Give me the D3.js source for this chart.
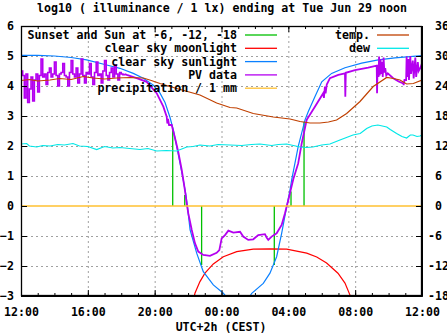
<!DOCTYPE html>
<html><head><meta charset="utf-8">
<script src="https://cdn.jsdelivr.net/npm/d3@7"></script>
<style>
body{margin:0;background:#fff;}
svg{display:block;}
text{font-family:"DejaVu Sans Mono","Liberation Mono",monospace;font-weight:bold;font-size:11.6px;fill:#000;}
</style></head>
<body><svg id="c" width="447" height="335"></svg>
<script>
// ---- data (time = hours after 12:00 on Jun 28, values = log10 lux or °C) ----
const xTickLabels = ["12:00","16:00","20:00","00:00","04:00","08:00","12:00"];
const yLeftTicks = [-3,-2,-1,0,1,2,3,4,5,6];
const yRightTicks = [-18,-12,-6,0,6,12,18,24,30,36];

// Sunset and sun at -6, -12, -18 (impulses)
const sunEvents = [[9.08,2.53],[9.80,0.37],[10.81,-1.97],[15.16,-1.97],[16.16,0.48],[16.94,2.81]];

// clear sky moonlight
const moonlight = [[10.3,-3.2],[10.41,-2.91],[10.71,-2.52],[11.01,-2.24],[11.51,-1.93],[12.11,-1.69],
  [12.91,-1.52],[13.9,-1.44],[14.9,-1.43],[15.9,-1.44],[17.1,-1.57],[17.7,-1.7],[18.29,-1.9],
  [18.97,-2.24],[19.39,-2.57],[19.69,-2.97],[19.75,-3.2]];

// clear sky sunlight
const sunlight = [[0,5.02],[1,5.02],[2,5.0],[3,4.95],[3.93,4.87],[5.13,4.7],[5.92,4.59],[6.72,4.42],
  [7.32,4.26],[7.92,4.03],[8.32,3.76],[8.62,3.45],[8.92,2.95],[9.12,2.53],[9.32,1.98],[9.52,1.42],
  [9.71,0.87],[9.87,0.37],[9.95,0.03],[10.12,-0.8],[10.52,-1.58],[10.91,-2.19],[11.51,-2.63],
  [12.11,-2.91],[12.4,-3.1],[13.6,-3.1],[13.81,-2.91],[14.5,-2.58],[14.9,-2.24],[15.3,-1.69],
  [15.6,-0.91],[15.9,-0.02],[16.1,0.53],[16.2,0.87],[16.59,1.98],[17.0,2.87],[17.19,3.14],
  [17.59,3.64],[18.0,4.14],[18.59,4.42],[19.39,4.61],[20.39,4.76],[21.38,4.87],[22.38,4.94],[24,5.01]];

// PV data: noisy afternoon samples every 0.1 h from 12:00, then the rest
const pvAfternoon = [4.5,4.35,3.6,4.4,3.45,3.9,4.3,3.5,4.2,4.4,3.8,4.35,4.9,4.3,4.4,4.05,4.45,4.6,4.3,4.4,
  4.8,4.35,4.0,4.4,4.45,4.75,4.35,4.3,4.0,4.45,4.85,4.4,4.3,4.6,4.1,4.4,4.9,4.35,4.1,4.45,
  4.4,4.75,4.3,4.05,4.45,4.8,4.35,4.4,4.1,4.5,4.85,4.35,4.2,4.45,4.6,4.3,4.7,4.4,4.2,4.45,
  4.4,4.38,4.4];
const pvRest = [[6.2,4.4],[6.33,4.37],[6.92,4.26],[7.52,4.14],[8.12,3.76],[8.52,3.31],[8.72,2.98],[8.76,2.75],
  [8.8,2.9],[8.86,2.7],[9.02,2.7],[9.22,2.26],[9.41,1.81],[9.62,1.2],[9.81,0.53],[9.92,0.09],
  [10.01,-0.24],[10.22,-0.8],[10.41,-1.24],[10.61,-1.52],[10.91,-1.63],[11.31,-1.66],[11.71,-1.56],
  [11.87,-1.47],[12.01,-1.08],[12.21,-0.97],[12.41,-0.82],[12.71,-0.89],[13.11,-0.86],[13.3,-1.02],
  [13.6,-1.13],[13.9,-1.11],[14.2,-0.97],[14.6,-0.94],[14.7,-1.05],[14.8,-1.13],[15.0,-1.02],
  [15.3,-0.91],[15.6,-0.63],[15.8,-0.24],[16.0,0.2],[16.14,0.53],[16.3,0.9],[16.59,1.42],
  [16.8,2.09],[17.1,2.87],[17.59,3.31],[18.09,3.76],[18.13,3.6],[18.19,3.98],[18.23,3.75],
  [18.3,4.05],[18.49,4.26],[18.99,4.37],[19.39,4.42],[19.41,3.64],[19.44,4.44],[19.99,4.53],
  [20.78,4.61],[21.29,4.68],[21.31,3.76],[21.34,4.7],[21.4,4.3],[21.43,4.98],[21.47,4.35],
  [21.52,4.9],[21.56,4.4],[21.61,4.8],[21.65,4.3],[21.7,4.95],[21.75,4.45],[21.8,4.6],
  [21.86,4.35],[21.95,4.42],[22.28,4.26],[22.6,4.15],[22.88,4.09],[22.9,4.03],[22.95,4.2],
  [23.05,4.2],[23.08,4.98],[23.11,4.3],[23.18,4.9],[23.22,4.2],[23.3,5.0],[23.34,4.4],
  [23.45,4.85],[23.5,4.25],[23.6,4.95],[23.65,4.3],[23.75,4.8],[23.8,4.5],[23.9,4.6],[24,4.76]];

// precipitation / 1 mm
const precipitation = [0,0,0,0,0,0,0,0,0,0,0,0,0,0,0,0,0,0,0,0,0,0,0,0,0];

// temperature (°C)
const temperature = [[0,25.1],[0.5,25.3],[1.0,25.0],[1.74,25.2],[2.3,25.5],[3.0,25.3],[3.73,25.9],
  [4.3,25.6],[5.0,25.4],[5.73,25.6],[6.52,25.7],[7.32,25.6],[7.8,25.1],[8.32,24.5],[9.32,23.5],
  [10.71,22.2],[11.71,20.6],[12.51,19.7],[12.91,19.6],[13.9,18.5],[15.1,17.8],[16.1,17.4],
  [16.7,16.9],[17.3,16.6],[17.89,16.6],[18.4,16.8],[18.89,17.2],[19.49,18.5],[20.29,20.9],
  [21.08,23.9],[21.89,25.7],[22.3,25.5],[22.68,25.2],[23.08,24.4],[23.48,24.5],[24,25.2]];

// dew point (°C)
const dew = [[0,12.4],[0.34,12.5],[0.5,12.0],[0.94,11.8],[1.3,12.1],[1.74,12.0],[2.2,12.3],
  [2.6,12.2],[3.11,12.5],[3.5,12.0],[4.0,11.9],[4.53,11.3],[5.0,11.9],[5.5,11.6],[5.92,11.7],
  [6.5,11.5],[7.12,11.3],[7.6,11.5],[8.12,11.0],[8.7,11.1],[9.32,11.0],[9.92,11.8],[10.3,11.9],
  [10.71,12.2],[11.3,12.0],[11.8,12.3],[12.51,12.2],[13.2,12.1],[13.8,12.3],[14.3,12.4],
  [15.0,12.1],[15.4,12.3],[15.9,12.4],[16.3,12.1],[16.7,11.8],[17.1,11.7],[17.47,11.8],
  [18.0,12.2],[18.49,12.4],[19.09,13.2],[19.87,14.2],[20.3,14.5],[20.69,15.5],[21.0,16.0],
  [21.36,16.2],[21.89,15.8],[22.1,15.3],[22.48,14.5],[22.8,13.9],[23.08,13.6],[23.3,14.2],
  [23.46,14.2],[23.7,13.9],[23.88,14.0],[24,14.2]];

// ---- drawing ----
const svg = d3.select("#c");
const L = 21, R = 422, T = 26, B = 296;
const x = d3.scaleLinear().domain([0,24]).range([L,R]);
const yL = d3.scaleLinear().domain([-3,6]).range([B,T]);
const yR = d3.scaleLinear().domain([-18,36]).range([B,T]);

svg.append("defs").append("clipPath").attr("id","clip")
  .append("rect").attr("x",L).attr("y",T).attr("width",R-L).attr("height",B-T);

// grid
const grid = svg.append("g").attr("stroke","#a0a0a0").attr("stroke-dasharray","2,3").attr("stroke-width",1);
[1,2,3,4,5].forEach(i=>grid.append("line").attr("x1",x(i*4)+0.5).attr("x2",x(i*4)+0.5).attr("y1",T).attr("y2",B));
yLeftTicks.filter(v=>v>-3 && v<6 && v!==0).forEach(v=>grid.append("line")
  .attr("x1",L).attr("x2",R).attr("y1",yL(v)+0.5).attr("y2",yL(v)+0.5));

const plot = svg.append("g").attr("clip-path","url(#clip)");
const lineL = d3.line().x(d=>x(d[0])).y(d=>yL(d[1]));
const lineR = d3.line().x(d=>x(d[0])).y(d=>yR(d[1]));

// sun events
plot.selectAll(".sev").data(sunEvents).join("line")
  .attr("x1",d=>x(d[0])).attr("x2",d=>x(d[0])).attr("y1",yL(0)).attr("y2",d=>yL(d[1]))
  .attr("stroke","#00c000").attr("stroke-width",1.3);

plot.append("path").datum(moonlight).attr("d",lineL).attr("fill","none").attr("stroke","#ff0000").attr("stroke-width",1.2);
plot.append("path").datum(sunlight).attr("d",lineL).attr("fill","none").attr("stroke","#0a80ff").attr("stroke-width",1.2);

const pvA = pvAfternoon.map((v,i)=>[i*0.1,v]);
plot.append("path").datum(pvA).attr("d",d3.line().x(d=>x(d[0])).y(d=>yL(d[1])).curve(d3.curveStepAfter))
  .attr("fill","none").attr("stroke","#b400f0").attr("stroke-width",1.6);
plot.append("path").datum(pvRest).attr("d",lineL)
  .attr("fill","none").attr("stroke","#b400f0").attr("stroke-width",1.8);

plot.append("path").datum(precipitation.map((v,i)=>[i,v])).attr("d",lineL)
  .attr("fill","none").attr("stroke","#ffc030").attr("stroke-width",1.5);

plot.append("path").datum(temperature).attr("d",lineR).attr("fill","none").attr("stroke","#c04000").attr("stroke-width",1.2);
plot.append("path").datum(dew).attr("d",lineR).attr("fill","none").attr("stroke","#00e8e8").attr("stroke-width",1.2);

// axes
const fmtR = v => (v<0 ? String(v) : " "+v);
svg.append("g").attr("transform",`translate(${L},0)`)
  .call(d3.axisLeft(yL).tickValues(yLeftTicks).tickFormat(d3.format("d")).tickSizeInner(-6).tickSizeOuter(0).tickPadding(7));
const aR = svg.append("g").attr("transform",`translate(${R},0)`)
  .call(d3.axisRight(yR).tickValues(yRightTicks).tickFormat(fmtR).tickSizeInner(-6).tickSizeOuter(0).tickPadding(6));
aR.selectAll("text").style("white-space","pre");
svg.append("g").attr("transform",`translate(0,${B})`)
  .call(d3.axisBottom(x).tickValues([0,4,8,12,16,20,24]).tickFormat((d,i)=>xTickLabels[i]).tickSizeInner(-6).tickSizeOuter(0).tickPadding(12));
svg.append("g").attr("transform",`translate(0,${B})`)
  .call(d3.axisBottom(x).tickValues(d3.range(0,25)).tickFormat("").tickSizeInner(-3).tickSizeOuter(0));
svg.append("g").attr("transform",`translate(0,${T})`)
  .call(d3.axisTop(x).tickValues([0,4,8,12,16,20,24]).tickFormat("").tickSizeInner(-6).tickSizeOuter(0));
svg.append("g").attr("transform",`translate(0,${T})`)
  .call(d3.axisTop(x).tickValues(d3.range(0,25)).tickFormat("").tickSizeInner(-3).tickSizeOuter(0));
svg.selectAll(".domain").attr("stroke","#000");
svg.selectAll(".tick line").attr("stroke","#000");
svg.selectAll(".tick text").attr("font-family",null).attr("font-size",null);
svg.append("rect").attr("x",L+0.5).attr("y",T+0.5).attr("width",R-L-1).attr("height",B-T-1)
  .attr("fill","none").attr("stroke","#000").attr("stroke-width",1.3);

// title and axis label
svg.append("text").attr("x",222).attr("y",12).attr("text-anchor","middle")
  .text("log10 ( illuminance / 1 lx) ending at Tue Jun 29 noon");
svg.append("text").attr("x",221).attr("y",331).attr("text-anchor","middle").text("UTC+2h (CEST)");

// legends
const legLeft = [["Sunset and Sun at -6, -12, -18","#00c000"],["clear sky moonlight","#ff0000"],
  ["clear sky sunlight","#0a80ff"],["PV data","#b400f0"],["precipitation / 1 mm","#ffc030"]];
const legRight = [["temp.","#c04000"],["dew","#00e8e8"]];
function legend(items, tx, lx1, lx2){
  items.forEach((d,i)=>{
    const yy = 35 + i*13.3;
    svg.append("text").attr("x",tx).attr("y",yy+4).attr("text-anchor","end").text(d[0]);
    svg.append("line").attr("x1",lx1).attr("x2",lx2).attr("y1",yy).attr("y2",yy)
      .attr("stroke",d[1]).attr("stroke-width",1.3);
  });
}
legend(legLeft, 237, 245, 277);
legend(legRight, 370, 377, 409);
</script></body></html>
